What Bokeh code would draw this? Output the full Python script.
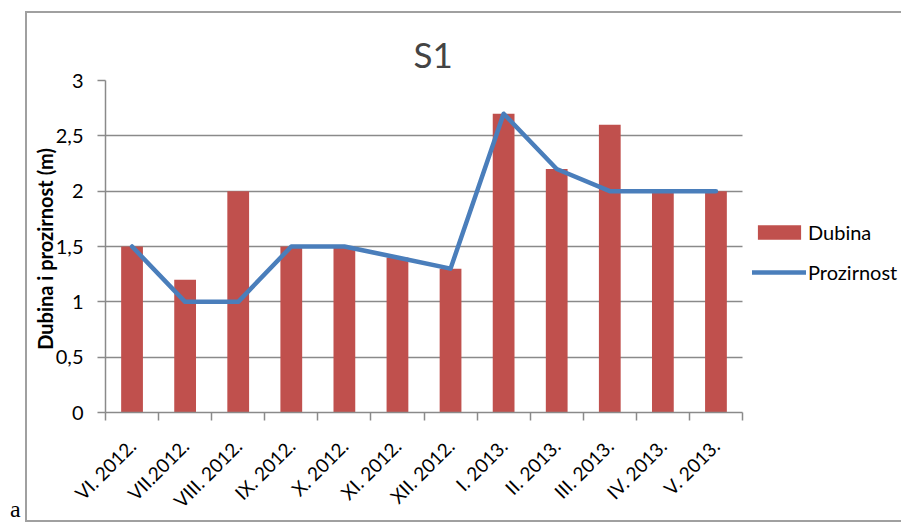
import math
from bokeh.plotting import figure
from bokeh.layouts import row
from bokeh.models import Range1d, FixedTicker, Legend, LegendItem, Div
from bokeh.embed import file_html
from bokeh.resources import INLINE

# ---- data ----
months = ["VI. 2012.", "VII.2012.", "VIII. 2012.", "IX. 2012.", "X. 2012.", "XI. 2012.",
          "XII. 2012.", "I. 2013.", "II. 2013.", "III. 2013.", "IV. 2013.", "V. 2013."]
dubina = [1.5, 1.2, 2.0, 1.5, 1.5, 1.4, 1.3, 2.7, 2.2, 2.6, 2.0, 2.0]
prozirnost = [1.5, 1.0, 1.0, 1.5, 1.5, 1.4, 1.3, 2.7, 2.2, 2.0, 2.0, 2.0]
y_ticks = [0, 0.5, 1, 1.5, 2, 2.5, 3]
y_tick_labels = ["0", "0,5", "1", "1,5", "2", "2,5", "3"]
title_text = "S1"
y_label = "Dubina i prozirnost  (m)"
panel_letter = "a"

n = len(months)
idx = list(range(n))
GRAY = "#8a8a8a"
BOX = "#a0a0a0"
FONT = "Lato"

# layout geometry (pixels): figure starts at page x=25; plot area 105..742 px of the page
LETTER_W = 25
FIG_W, FIG_H = 901 - LETTER_W, 523
LEFT, TOP, BOTTOM = 105 - LETTER_W, 80, 111
AXIS_PX = 742 - 105
x_end = -0.5 + n * (FIG_W - LEFT) / AXIS_PX   # frame continues under the legend

p = figure(width=FIG_W, height=FIG_H, output_backend="svg", toolbar_location=None,
           x_range=Range1d(-0.5, x_end), y_range=Range1d(0, 3),
           min_border_left=LEFT, min_border_right=0, min_border_top=TOP, min_border_bottom=BOTTOM,
           background_fill_color="white", border_fill_alpha=0)
p.outline_line_color = None
p.styles = {
    "background": (f"linear-gradient({BOX},{BOX}) 0px 11px / 100% 2px no-repeat, "
                   f"linear-gradient({BOX},{BOX}) 0px 520px / 100% 2px no-repeat, "
                   f"linear-gradient({BOX},{BOX}) 0px 11px / 2px 511px no-repeat, white")
}

# title
p.title.text = title_text
p.title.text_font = FONT
p.title.text_font_size = "35px"
p.title.text_font_style = "normal"
p.title.align = "left"
p.title.offset = 308
p.title.standoff = 12

# bars and line
bars = p.vbar(x=idx, top=dubina, width=0.41, fill_color="#C0504D", line_color=None)
line = p.line(x=idx, y=prozirnost, line_color="#4A7EBB", line_width=4.5,
              line_join="round", line_cap="round")

# x axis: labels at category centres, ticks at boundaries
xa = p.xaxis[0]
xa.bounds = (-0.5, n - 0.5)
xa.ticker = FixedTicker(ticks=idx, minor_ticks=[i - 0.5 for i in range(n + 1)])
xa.major_label_overrides = {i: m for i, m in zip(idx, months)}
xa.major_label_orientation = math.pi / 4
xa.major_tick_line_color = None
xa.major_tick_out = 8
xa.major_tick_in = 0
xa.minor_tick_out = 8
xa.minor_tick_in = 0
xa.minor_tick_line_color = GRAY
xa.minor_tick_line_width = 1.5
xa.axis_line_color = GRAY
xa.axis_line_width = 1.5
xa.major_label_text_font = FONT
xa.major_label_text_font_size = "19px"
xa.major_label_text_color = "black"
xa.major_label_standoff = 22

# y axis
ya = p.yaxis[0]
ya.ticker = FixedTicker(ticks=y_ticks)
ya.major_label_overrides = {t: l for t, l in zip(y_ticks, y_tick_labels)}
ya.major_tick_out = 8
ya.major_tick_in = 0
ya.minor_tick_line_color = None
ya.major_tick_line_color = GRAY
ya.major_tick_line_width = 1.5
ya.axis_line_color = GRAY
ya.axis_line_width = 1.5
ya.major_label_text_font = FONT
ya.major_label_text_font_size = "20px"
ya.major_label_text_color = "black"
ya.major_label_standoff = 14
ya.axis_label = y_label
ya.axis_label_text_font = FONT
ya.axis_label_text_font_size = "20px"
ya.axis_label_text_font_style = "bold"
ya.axis_label_text_color = "black"
ya.axis_label_standoff = -4

p.xgrid.grid_line_color = None
p.ygrid.ticker = FixedTicker(ticks=y_ticks)
p.ygrid.cross_bounds = (-0.5, n - 0.5)
p.ygrid.grid_line_color = GRAY
p.ygrid.grid_line_width = 1.5

# legend (inside the wide frame, right of the plotted categories)
legend = Legend(items=[LegendItem(label="Dubina", renderers=[bars]),
                       LegendItem(label="Prozirnost", renderers=[line])],
                location=(647, 128), orientation="vertical",
                glyph_width=54, glyph_height=18, label_height=18, spacing=16,
                label_standoff=2, padding=0, margin=0,
                border_line_color=None, background_fill_alpha=0,
                label_text_font=FONT, label_text_font_size="20px", label_text_color="black")
p.add_layout(legend, "center")

letter = Div(text=(f'<div style="position:relative; top:497px; left:10px; '
                   f'font-family:\'Liberation Serif\'; font-size:24px; line-height:24px; color:black;">'
                   f'{panel_letter}</div>'),
             width=LETTER_W, height=FIG_H, margin=0)

layout = row(letter, p, spacing=0)
open("out.html", "w").write(file_html(layout, INLINE))
